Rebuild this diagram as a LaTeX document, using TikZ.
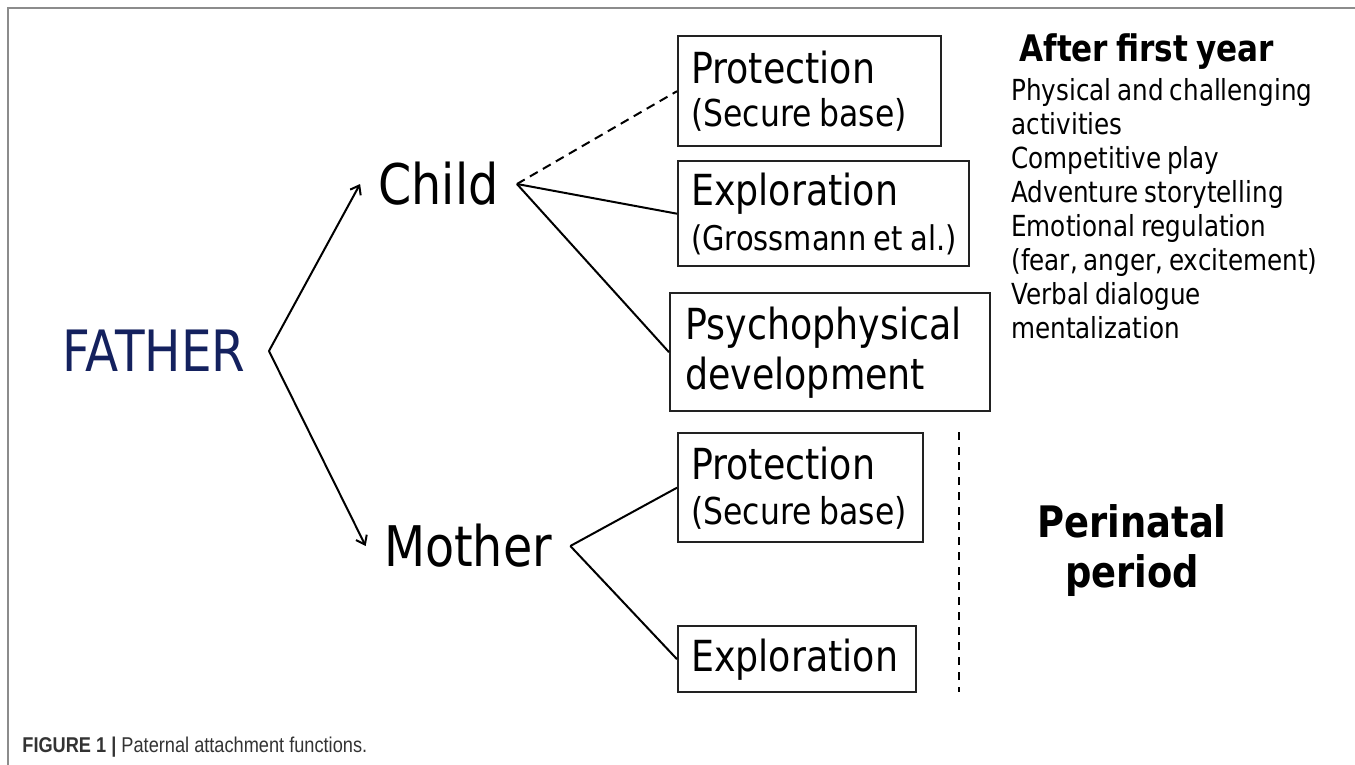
\documentclass[tikz,border=0pt]{standalone}
\usepackage{fontspec}
\setmainfont{DejaVu Sans}[FakeStretch=0.85, WordSpace=0.75]
\newfontfamily\capf{Liberation Sans}[FakeStretch=0.85]
\usetikzlibrary{arrows.meta}
\definecolor{navy}{HTML}{14215E}
\definecolor{framegray}{HTML}{8C8C8C}
\definecolor{boxline}{HTML}{222222}
\newcommand{\nsp}{\hspace{0.22em}}
\tikzset{
  box/.style={draw=boxline, line width=1.2pt, rectangle, anchor=north west,
    inner xsep=6.5pt, inner ysep=0pt, align=left,
    font=\fontsize{21.4}{21.5}\selectfont},
  bigword/.style={inner xsep=9pt, inner ysep=0pt, font=\fontsize{28}{30}\selectfont},
  conn/.style={line width=1pt, draw=black},
  arr/.style={conn, -{Straight Barb[length=4pt,width=6pt]}},
  dconn/.style={conn, dash pattern=on 4.5pt off 3pt},
  vdash/.style={line width=1pt, draw=black, dash pattern=on 4pt off 3.5pt},
  plain/.style={inner sep=0pt},
}
\begin{document}
\begin{tikzpicture}[x=0.5pt, y=-0.5pt]
\useasboundingbox (0,0) rectangle (1355,765);
\coordinate (fbl) at (8,765);
\coordinate (ftl) at (8,8);
\coordinate (ftr) at (1355,8);
\draw[framegray, line width=1pt] (fbl) -- (ftl) -- (ftr);

% main nodes
\node[inner xsep=11.5pt, inner ysep=0pt, text=navy, font=\fontsize{28.5}{30}\selectfont] (father) at (154,351) {FATHER};
\node[bigword] (child) at (438.5,184) {Child};
\node[bigword] (mother) at (468,546) {Mother};

% boxes
\node[box, minimum width=131.5pt, minimum height=55pt, text width=118.5pt] (p1) at (677,35)
  {Protection\\{\fontsize{18.5}{21.5}\selectfont\mbox{(Secure\nsp base)}}};
\node[box, minimum width=145.5pt, minimum height=52.5pt, text width=132.5pt] (e1) at (677,160)
  {Exploration\\[1pt]{\fontsize{17}{21.5}\selectfont\mbox{(Grossmann\nsp et\nsp al.)}}};
\node[box, minimum width=160pt, minimum height=59pt, text width=145pt, inner xsep=7.5pt,
  font=\fontsize{21.4}{25}\selectfont] (d1) at (669,292)
  {Psychophysical\\development};
\node[box, minimum width=122.5pt, minimum height=54.5pt, text width=109.5pt] (p2) at (677,432)
  {Protection\\[1pt]{\fontsize{18.5}{21.5}\selectfont\mbox{(Secure\nsp base)}}};
\node[box, minimum width=119pt, minimum height=33pt, text width=106pt] (e2) at (677,625)
  {Exploration};

% right-hand texts
\node[plain, anchor=base west, font=\bfseries\fontsize{18.3}{20}\selectfont] (afy) at (1019,62) {After first year};
\node[plain, anchor=north west, align=left, font=\fontsize{14.5}{17}\selectfont] (list) at (1011,78)
  {Physical and challenging\\activities\\Competitive play\\Adventure storytelling\\Emotional regulation\\(fear, anger, excitement)\\Verbal dialogue\\mentalization};
\node[plain, anchor=north, align=center, font=\bfseries\fontsize{21.7}{25}\selectfont] (peri) at (1132,504) {Perinatal\\period};

% caption
\node[plain, anchor=base west, text=black!80, font=\capf\fontsize{10.7}{12}\selectfont] (cap) at (22,752)
  {\textbf{FIGURE 1} \textbf{|} Paternal attachment functions.};

% connectors
\draw[arr] (father.east) -- (child.west);
\draw[arr] (father.east) -- (mother.west);
\draw[dconn] (child.east) -- (p1.west);
\draw[conn] (child.east) -- (e1.west);
\draw[conn] (child.east) -- (d1.west);
\draw[conn] (mother.east) -- (p2.west);
\draw[conn] (mother.east) -- (e2.west);

% vertical dashed separator
\coordinate (vt) at (959,432);
\coordinate (vb) at (959,692);
\draw[vdash] (vt) -- (vb);
\end{tikzpicture}
\end{document}
